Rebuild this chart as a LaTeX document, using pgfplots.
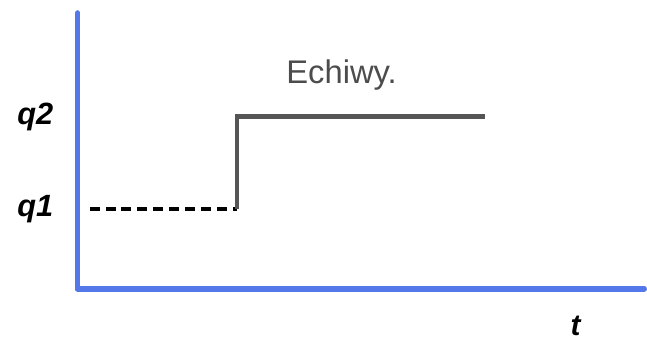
\documentclass[border=0pt]{standalone}
\usepackage{pgfplots}
\pgfplotsset{compat=1.18}
\usepackage{fontspec}
\setmainfont{Liberation Sans}
\definecolor{axisblue}{RGB}{84,120,234}
\definecolor{stepgray}{RGB}{85,85,85}

\begin{document}
\begin{tikzpicture}[x=1bp,y=1bp]
\begin{axis}[
    scale only axis,
    width=569bp,
    height=277bp,
    xmin=78, xmax=647,
    ymin=53, ymax=330,
    axis lines=left,
    axis line style={axisblue, line width=5.5bp, -, line cap=round},
    xtick=\empty,
    ytick={133,226},
    yticklabels={q1,q2},
    yticklabel style={font=\fontsize{31}{33}\selectfont\bfseries\itshape, xshift=-21bp},
    major tick length=0pt,
    clip=false,
]

% dashed level before the step
\addplot[black, line width=3.5bp, dash pattern=on 10bp off 6bp] coordinates {
    (90,133) (238,133)
};

% the step itself
\addplot[stepgray, line width=4.5bp] coordinates {
    (238,133) (238,226) (487,226)
};

\node[font=\fontsize{33}{36}\selectfont, text=stepgray!90!black] at (axis cs:343,268) {Echiwy.};
\node[font=\fontsize{30}{32}\selectfont\bfseries\itshape] at (axis cs:578,16) {t};

% keep the page as large as the reference
\path (axis cs:0,0) (axis cs:647,343);
\end{axis}
\end{tikzpicture}
\end{document}
